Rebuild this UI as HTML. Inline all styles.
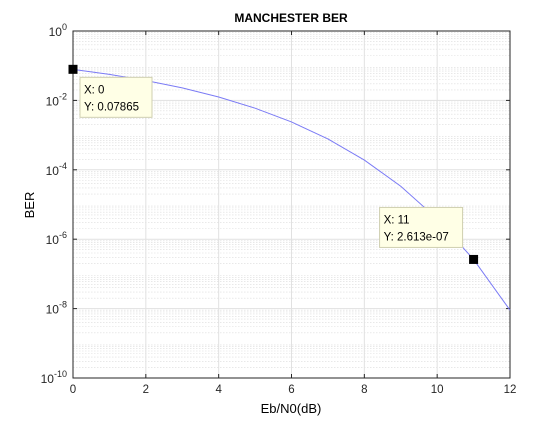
<!DOCTYPE html>
<html><head><meta charset="utf-8"><style>
body{margin:0;background:#fff;}
svg text{font-family:"Liberation Sans",sans-serif;}
</style></head><body>
<svg id="c" width="560" height="420" viewBox="0 0 560 420" xmlns="http://www.w3.org/2000/svg">
<rect width="560" height="420" fill="#fff"/>
<rect x="73" y="31" width="437" height="347" fill="#fff"/>
<g id="grid"></g>
<g id="axes"></g>
<g id="series"></g>
<g id="tips"></g>
<text x="291" y="22" text-anchor="middle" font-size="12" font-weight="bold">MANCHESTER BER</text>
<text x="291" y="413" text-anchor="middle" font-size="13">Eb/N0(dB)</text>
<text transform="translate(34,205) rotate(-90)" text-anchor="middle" font-size="13">BER</text>
</svg>
<script>
const xs=[0,1,2,3,4,5,6,7,8,9,10,11,12];
const ber=[0.0786,0.0563,0.0375,0.0229,0.0125,0.00597,0.00239,7.73e-4,1.91e-4,3.36e-5,3.87e-6,2.61e-7,9.0e-9];
const xTicks=[0,2,4,6,8,10,12];
const yExp=[0,-2,-4,-6,-8,-10];
const tipIdx=[0,11];
const tipLabels=[["X: 0","Y: 0.07865"],["X: 11","Y: 2.613e-07"]];
const L=73,R=510,T=31,B=378;
const sx=x=>L+(x-0)/12*(R-L);
const sy=v=>T+(0-Math.log10(v))/10*(B-T);
const NS="http://www.w3.org/2000/svg";
function mk(tag,attrs,parent){const e=document.createElementNS(NS,tag);for(const k in attrs)e.setAttribute(k,attrs[k]);parent.appendChild(e);return e;}
const grid=document.getElementById('grid'),axes=document.getElementById('axes'),series=document.getElementById('series'),tips=document.getElementById('tips');
for(let d=0;d>-10;d--){for(let m=2;m<=9;m++){const y=sy(m*Math.pow(10,d-1));const l=mk('line',{x1:L,x2:R,y1:y,y2:y,stroke:'#dcdcdc','stroke-width':0.6,'stroke-dasharray':'1.5,1.5'},grid);

}}
yExp.forEach(e=>{const y=sy(Math.pow(10,e));const l=mk('line',{x1:L,x2:R,y1:y,y2:y,stroke:'#e1e1e1','stroke-width':1},grid);


const t=mk('text',{x:L-6,y:y+5,'text-anchor':'end','font-size':12,fill:'#262626'},axes);


t.textContent='10';const s=mk('tspan',{dy:-6,'font-size':9},t);s.textContent=String(e);
mk('line',{x1:L,x2:L+4,y1:y,y2:y,stroke:'#262626'},axes);mk('line',{x1:R,x2:R-4,y1:y,y2:y,stroke:'#262626'},axes);});
xTicks.forEach(v=>{const x=sx(v);const l=mk('line',{x1:x,x2:x,y1:T,y2:B,stroke:'#e1e1e1'},grid);


const t=mk('text',{x:x,y:B+15,'text-anchor':'middle','font-size':11.5,fill:'#262626'},axes);


t.textContent=v;
mk('line',{x1:x,x2:x,y1:B,y2:B-4,stroke:'#262626'},axes);mk('line',{x1:x,x2:x,y1:T,y2:T+4,stroke:'#262626'},axes);});
const fr=mk('rect',{x:L,y:T,width:R-L,height:B-T,fill:'none',stroke:'#262626','stroke-width':1},axes);


const p=mk('polyline',{points:xs.map((x,i)=>sx(x)+','+sy(ber[i])).join(' '),fill:'none',stroke:'#7b7bf5','stroke-width':1},series);


tipIdx.forEach((i,k)=>{const x=sx(xs[i]),y=sy(ber[i]);
const g=mk('g',{},tips);


const bx=k==0?x+7:x-94,by=k==0?y+8:y-52;
mk('rect',{x:bx,y:by,width:k==0?72:83,height:40,fill:'#ffffe6',stroke:'#cfcfb0'},g);
mk('text',{x:bx+4,y:by+16,'font-size':11.5},g).textContent=tipLabels[k][0];
mk('text',{x:bx+4,y:by+33,'font-size':11.5},g).textContent=tipLabels[k][1];
mk('rect',{x:x-4.5,y:y-4.5,width:9,height:9,fill:'#000'},g);});
</script>
</body></html>
